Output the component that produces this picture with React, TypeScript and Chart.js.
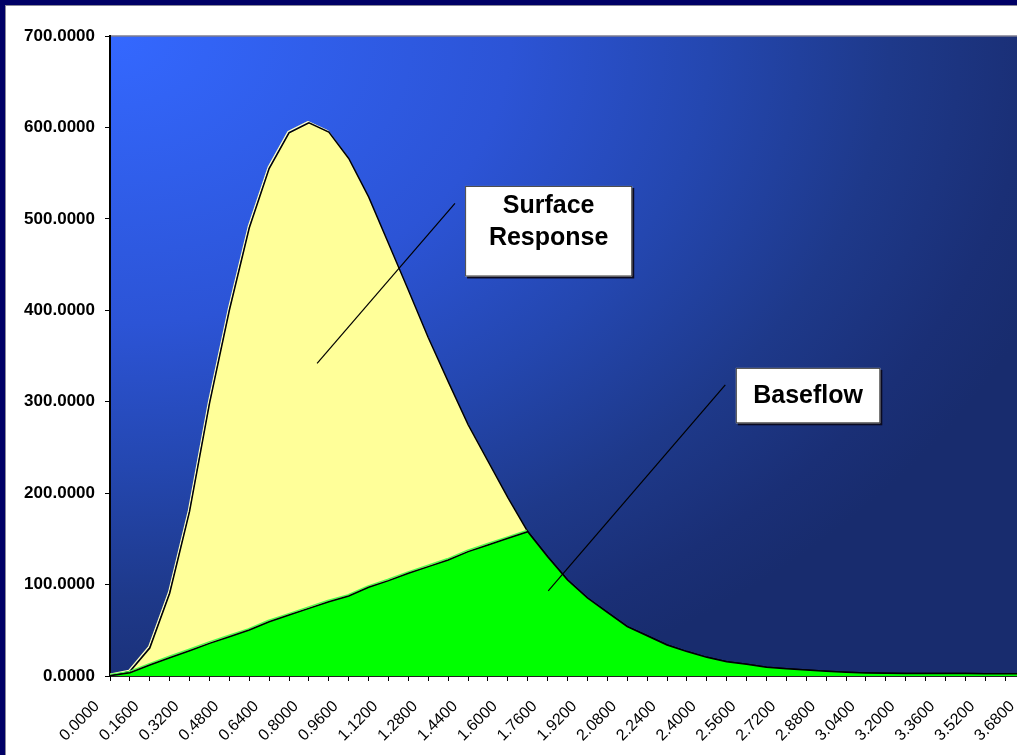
import { useEffect, useRef } from 'react';
import { Chart, registerables } from 'chart.js';

Chart.register(...registerables);

// Time steps (category axis)
const timeLabels = [
  '0.0000', '0.0800', '0.1600', '0.2400', '0.3200', '0.4000', '0.4800', '0.5600',
  '0.6400', '0.7200', '0.8000', '0.8800', '0.9600', '1.0400', '1.1200', '1.2000',
  '1.2800', '1.3600', '1.4400', '1.5200', '1.6000', '1.6800', '1.7600', '1.8400',
  '1.9200', '2.0000', '2.0800', '2.1600', '2.2400', '2.3200', '2.4000', '2.4800',
  '2.5600', '2.6400', '2.7200', '2.8000', '2.8800', '2.9600', '3.0400', '3.1200',
  '3.2000', '3.2800', '3.3600', '3.4400', '3.5200', '3.6000', '3.6800', '3.7600',
];

// Baseflow component
const baseflow = [
  0.3, 3.5, 12, 20, 27.7, 35.7, 43, 50.3,
  59.4, 66.7, 74, 81.3, 87.5, 97, 104.3, 112.3,
  119.6, 126.9, 136, 143.3, 150.6, 157.8, 130.4, 105,
  85.3, 69.6, 54, 44, 33.9, 26.7, 20.4, 15.7,
  12.8, 9.5, 8, 6.6, 5.1, 4, 3.3, 2.9,
  2.8, 2.7, 2.6, 2.6, 2.5, 2.5, 2.5, 2.5,
];

// Surface response, stacked on top of the baseflow
const surfaceResponse = [
  0, 1.3, 18.6, 70.5, 152.3, 262.3, 357, 439.7,
  495.6, 527.3, 531, 513.7, 478.5, 427, 368.7, 309.7,
  250.4, 195.1, 139, 91.7, 44.4, 0, 0, 0,
  0, 0, 0, 0, 0, 0, 0, 0,
  0, 0, 0, 0, 0, 0, 0, 0,
  0, 0, 0, 0, 0, 0, 0, 0,
];

const yMin = 0;
const yMax = 700;
const yStep = 100;

// Callout boxes: box = [x0, y0, x1, y1] in (category index, value) units
const callouts = [
  {
    lines: ['Surface', 'Response'],
    box: [17.85, 536, 26.25, 437],
    leader: [[17.34, 517], [10.41, 342]],
    baseline: 27,
    lineGap: 32,
  },
  {
    lines: ['Baseflow'],
    box: [31.46, 337, 38.72, 276.4],
    leader: [[30.93, 318.3], [22.03, 93]],
    baseline: 35.5,
    lineGap: 32,
  },
];

const FONT = '"Liberation Sans", Arial, Helvetica, sans-serif';

const framePlugin = {
  id: 'frameAndPlot',
  beforeDraw(chart: any) {
    const { ctx, width, height, chartArea } = chart;
    const { left, top, right, bottom } = chartArea;
    ctx.save();
    // slide frame
    ctx.fillStyle = '#000066';
    ctx.fillRect(0, 0, width, height);
    ctx.fillStyle = '#8a8a9a';
    ctx.fillRect(5, 5, width, height);
    ctx.fillStyle = '#ffffff';
    ctx.fillRect(6, 6, width, height);

    // plot area gradient from the top-left corner
    ctx.beginPath();
    ctx.rect(left, top, right - left, bottom - top);
    ctx.clip();
    ctx.translate(left, top);
    const rx = 1000;
    const ry = 720;
    ctx.scale(1, ry / rx);
    const g = ctx.createRadialGradient(0, 0, 0, 0, 0, rx);
    g.addColorStop(0, '#3468ff');
    g.addColorStop(0.4, '#2c54d6');
    g.addColorStop(0.6, '#2447b0');
    g.addColorStop(0.78, '#1e398a');
    g.addColorStop(0.92, '#1a2f76');
    g.addColorStop(1, '#182c6e');
    ctx.fillStyle = g;
    ctx.fillRect(0, 0, right - left, ((bottom - top) * rx) / ry);
    ctx.restore();

    // top border of plot area
    ctx.save();
    ctx.strokeStyle = '#7c7c90';
    ctx.lineWidth = 1.5;
    ctx.beginPath();
    ctx.moveTo(left, top);
    ctx.lineTo(right, top);
    ctx.stroke();
    ctx.restore();
  },
};

// Light edge just outside each area's outline, up to where the surface response ends
const haloPlugin = {
  id: 'edgeHalo',
  beforeDatasetDraw(chart: any, args: any) {
    const { ctx, chartArea } = chart;
    const colors = ['#4dff4d', '#ffffc0'];
    const pts = args.meta.data;
    let last = surfaceResponse.length - 1;
    while (last > 0 && surfaceResponse[last] === 0) last--;
    last = Math.min(pts.length - 1, last + 1);
    ctx.save();
    ctx.beginPath();
    ctx.rect(chartArea.left, chartArea.top, chartArea.right - chartArea.left, chartArea.bottom - chartArea.top);
    ctx.clip();
    ctx.strokeStyle = colors[args.index];
    ctx.lineWidth = 1.4;
    ctx.lineJoin = 'round';
    ctx.beginPath();
    for (let i = 0; i <= last; i++) {
      const p = pts[i];
      if (i === 0) ctx.moveTo(p.x - 1, p.y - 1.2);
      else ctx.lineTo(p.x - 1, p.y - 1.2);
    }
    ctx.stroke();
    ctx.restore();
  },
};

const calloutPlugin = {
  id: 'callouts',
  afterDraw(chart: any) {
    const { ctx } = chart;
    const xs = chart.scales.x;
    const ys = chart.scales.y;
    callouts.forEach((c) => {
      ctx.save();
      ctx.strokeStyle = '#000';
      ctx.lineWidth = 1.2;
      ctx.beginPath();
      ctx.moveTo(xs.getPixelForValue(c.leader[0][0]), ys.getPixelForValue(c.leader[0][1]));
      ctx.lineTo(xs.getPixelForValue(c.leader[1][0]), ys.getPixelForValue(c.leader[1][1]));
      ctx.stroke();

      const x0 = xs.getPixelForValue(c.box[0]);
      const y0 = ys.getPixelForValue(c.box[1]);
      const x1 = xs.getPixelForValue(c.box[2]);
      const y1 = ys.getPixelForValue(c.box[3]);
      const w = x1 - x0;
      const h = y1 - y0;
      ctx.fillStyle = '#0a0a20';
      ctx.fillRect(x0 + 2, y0 + 2, w, h);
      ctx.fillStyle = '#ffffff';
      ctx.fillRect(x0, y0, w, h);
      ctx.strokeStyle = '#444';
      ctx.lineWidth = 1;
      ctx.strokeRect(x0 + 0.5, y0 + 0.5, w - 1, h - 1);

      ctx.fillStyle = '#000';
      ctx.font = `bold 25px ${FONT}`;
      ctx.textAlign = 'center';
      ctx.textBaseline = 'alphabetic';
      c.lines.forEach((t, i) => {
        ctx.fillText(t, (x0 + x1) / 2, y0 + c.baseline + i * c.lineGap);
      });
      ctx.restore();
    });
  },
};

export default function App() {
  const canvasRef = useRef<HTMLCanvasElement>(null);

  useEffect(() => {
    const canvas = canvasRef.current;
    if (!canvas) return;
    const chart = new Chart(canvas, {
      type: 'line',
      data: {
        labels: timeLabels,
        datasets: [
          {
            label: 'Baseflow',
            data: baseflow,
            fill: 'origin',
            backgroundColor: '#00ff00',
            borderColor: '#000000',
            borderWidth: 1.5,
            pointRadius: 0,
            tension: 0,
          },
          {
            label: 'Surface Response',
            data: surfaceResponse,
            fill: '-1',
            backgroundColor: '#ffff99',
            borderColor: '#000000',
            borderWidth: 1.5,
            pointRadius: 0,
            tension: 0,
          },
        ],
      },
      options: {
        responsive: false,
        animation: false,
        devicePixelRatio: 1,
        layout: { padding: { left: 0, top: 36, right: 30, bottom: 0 } },
        plugins: {
          legend: { display: false },
          tooltip: { enabled: false },
        },
        scales: {
          x: {
            type: 'category',
            offset: false,
            grid: {
              display: true,
              drawOnChartArea: false,
              drawTicks: true,
              tickLength: 5,
              color: '#000',
              lineWidth: 1,
            },
            border: { display: true, color: '#222', width: 2 },
            ticks: {
              autoSkip: false,
              minRotation: 45,
              maxRotation: 45,
              padding: 16,
              labelOffset: -13,
              color: '#000',
              font: { family: FONT, size: 16 },
              callback: function (this: any, value: any, index: number) {
                return index % 2 === 0 ? this.getLabelForValue(value) : '';
              },
            },
            afterFit: (scale: any) => {
              scale.height = 79;
            },
          },
          y: {
            stacked: true,
            min: yMin,
            max: yMax,
            grid: {
              display: true,
              drawOnChartArea: false,
              drawTicks: true,
              tickLength: 5,
              color: '#000',
              lineWidth: 1,
            },
            border: { display: true, color: '#000', width: 2 },
            ticks: {
              stepSize: yStep,
              padding: 10,
              color: '#000',
              font: { family: FONT, size: 17, weight: 'bold' },
              callback: (v: any) => Number(v).toFixed(4),
            },
            afterFit: (scale: any) => {
              scale.width = 110;
            },
          },
        },
      },
      plugins: [framePlugin, haloPlugin, calloutPlugin],
    });
    return () => chart.destroy();
  }, []);

  return (
    <div
      style={{
        position: 'fixed',
        left: 0,
        top: 0,
        width: 1017,
        height: 755,
        overflow: 'hidden',
        background: '#000066',
      }}
    >
      <canvas ref={canvasRef} width={1075} height={755} style={{ display: 'block' }} />
    </div>
  );
}
